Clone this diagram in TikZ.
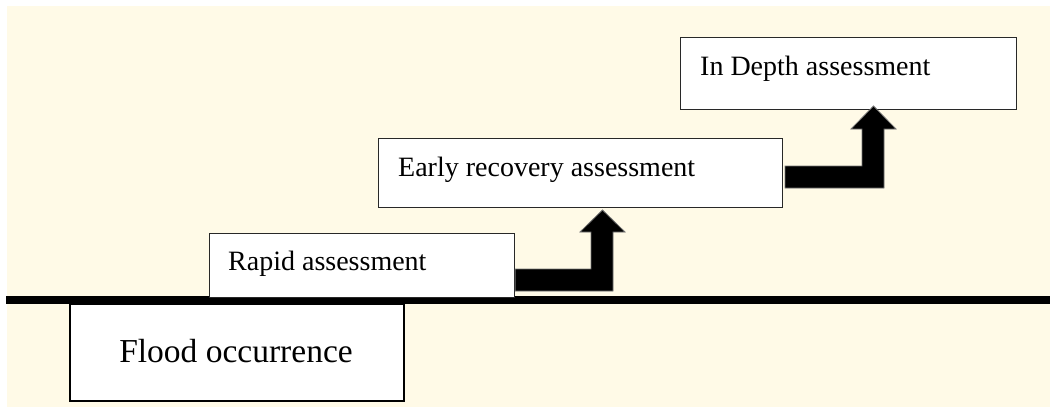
\documentclass[tikz,border=0pt]{standalone}
\usepackage{fontspec}
\setmainfont{Liberation Serif}
\definecolor{cream}{RGB}{255,250,231}
\definecolor{edge}{RGB}{40,40,40}
\begin{document}
\begin{tikzpicture}[x=1pt,y=-1pt,
  stagebox/.style={draw=edge,line width=1.2pt,fill=white,inner sep=0pt,anchor=north west},
  basebox/.style={draw=black,line width=2.2pt,fill=white,inner sep=0pt,anchor=north west},
  stagetext/.style={inner sep=0pt,anchor=base west,font=\fontsize{28}{34}\selectfont},
  basetext/.style={inner sep=0pt,anchor=base,font=\fontsize{33.5}{40}\selectfont},
  bentarrow/.style={fill=black,draw=black!55,line width=0.8pt,line join=miter}]
\useasboundingbox (0,0) rectangle (1050,407);
\fill[white] (0,0) rectangle (1050,407);
\fill[cream] (7,6) rectangle (1050,407);

% ground line
\coordinate (gl) at (6,300);
\coordinate (gr) at (1050,300);

% stage boxes
\node[basebox,minimum width=334pt,minimum height=97pt] (flood) at (69,303) {};
\node[basetext] (floodt) at (236,362) {Flood occurrence};

\draw[line width=7.5pt,black] (gl) -- (gr);

\node[stagebox,minimum width=305pt,minimum height=64pt] (rapid) at (209,233) {};
\node[stagetext] (rapidt) at (228,270) {Rapid assessment};

\node[stagebox,minimum width=404pt,minimum height=69pt] (early) at (378,138) {};
\node[stagetext] (earlyt) at (398,176) {Early recovery assessment};

\node[stagebox,minimum width=336pt,minimum height=72pt] (deep) at (680,37) {};
\node[stagetext] (deept) at (700,75) {In Depth assessment};

% bent block arrows between stages
\draw[bentarrow] (rapid.east |- 0,269) -- (591,269) -- (591,232) -- (580,232)
  -- (602.5,210) -- (625,232) -- (613,232) -- (613,291) -- (rapid.east |- 0,291) -- cycle;
\draw[bentarrow] (785,166) -- (862,166) -- (862,129) -- (851,129)
  -- (873.5,106) -- (896,129) -- (884,129) -- (884,188) -- (785,188) -- cycle;
\end{tikzpicture}
\end{document}
